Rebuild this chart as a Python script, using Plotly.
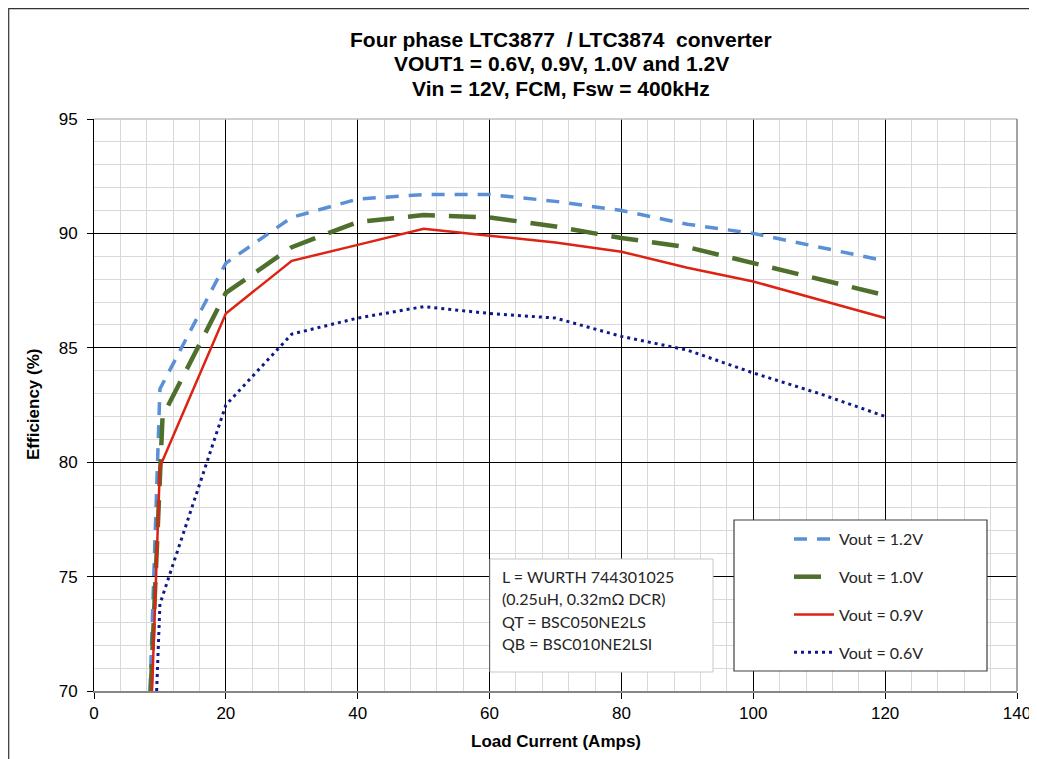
import plotly.graph_objects as go

# ---- data ----
x_12 = [8.5, 10, 20, 30, 40, 50, 60, 70, 80, 90, 100, 110, 120]
eff_12 = [70.0, 83.2, 88.7, 90.7, 91.5, 91.7, 91.7, 91.4, 91.0, 90.4, 90.0, 89.4, 88.8]

x_10 = [8.6, 10.4, 20, 30, 40, 50, 60, 70, 80, 90, 100, 110, 120]
eff_10 = [70.0, 82.0, 87.4, 89.4, 90.5, 90.8, 90.7, 90.3, 89.8, 89.4, 88.7, 88.0, 87.3]

x_09 = [8.8, 10, 20, 30, 40, 50, 60, 70, 80, 90, 100, 110, 120]
eff_09 = [70.0, 79.8, 86.5, 88.8, 89.5, 90.2, 89.9, 89.6, 89.2, 88.5, 87.9, 87.1, 86.3]

x_06 = [9.5, 10, 20, 30, 40, 50, 60, 70, 80, 90, 100, 110, 120]
eff_06 = [70.0, 73.8, 82.5, 85.6, 86.3, 86.8, 86.5, 86.3, 85.5, 84.9, 83.9, 83.0, 82.0]

series_names = ["Vout = 1.2V", "Vout = 1.0V", "Vout = 0.9V", "Vout = 0.6V"]

title_lines = ["Four phase LTC3877  / LTC3874  converter",
               "VOUT1 = 0.6V, 0.9V, 1.0V and 1.2V",
               "Vin = 12V, FCM, Fsw = 400kHz"]
note_lines = ["L = WURTH 744301025", "(0.25uH, 0.32m\u03a9 DCR)",
              "QT = BSC050NE2LS", "QB = BSC010NE2LSI"]
x_title = "Load Current (Amps)"
y_title = "Efficiency (%)"

# ---- geometry (screen pixels; page body adds an 8px offset) ----
OFF = 8
SCR_W, SCR_H = 1037, 759
PL, PR, PT, PB = 94, 1017, 119, 691           # plot area in screen px
W, H = SCR_W - OFF, SCR_H - OFF
L, T = PL - OFF, PT - OFF
R, B = W - (PR - OFF), H - (PB - OFF)
PW, PH = PR - PL, PB - PT


def px(x):
    return (x - PL) / PW


def py(y):
    return (PB - y) / PH


styles = [
    dict(color="#5B8FD6", width=3.5, dash="13px,10px"),
    dict(color="#4F6F2C", width=4.5, dash="27px,14px"),
    dict(color="#DD2314", width=2.5, dash="solid"),
    dict(color="#0E1A8A", width=3, dash="3px,4px"),
]

fig = go.Figure()
for i, (xs, ys) in enumerate([(x_12, eff_12), (x_10, eff_10), (x_09, eff_09), (x_06, eff_06)]):
    fig.add_trace(go.Scatter(x=xs, y=ys, mode="lines", name=series_names[i],
                             legendgroup=f"g{i}", line=styles[i]))

tick_font = dict(family="Liberation Sans, Arial, sans-serif", size=17, color="#000000")
fig.update_xaxes(range=[0, 140], dtick=20, tick0=0, showgrid=True, gridcolor="#000000", gridwidth=1,
                 minor=dict(dtick=4, showgrid=True, gridcolor="#D9D9D9", gridwidth=1),
                 showline=True, linecolor="#868686", linewidth=2, ticks="outside", ticklen=6,
                 tickcolor="#000000", tickfont=tick_font, zeroline=False, automargin=False,
                 ticklabelstandoff=0)
fig.update_yaxes(range=[70, 95], dtick=5, tick0=70, showgrid=True, gridcolor="#000000", gridwidth=1,
                 minor=dict(dtick=1, showgrid=True, gridcolor="#D9D9D9", gridwidth=1),
                 showline=True, linecolor="#000000", linewidth=1, ticks="outside", ticklen=6,
                 tickcolor="#000000", tickfont=tick_font, zeroline=False, automargin=False,
                 ticklabelstandoff=6)

shapes = [
    # plot frame top and right (gray)
    dict(type="line", xref="paper", yref="paper", x0=0, x1=1, y0=1, y1=1,
         line=dict(color="#BFBFBF", width=1.5)),
    dict(type="line", xref="paper", yref="paper", x0=1, x1=1, y0=0, y1=1,
         line=dict(color="#868686", width=1.5)),
    # outer chart border (left & top visible)
    dict(type="rect", xref="paper", yref="paper", x0=px(8.7), x1=px(1060), y0=py(780), y1=py(8.7),
         line=dict(color="#333333", width=1.2), fillcolor="rgba(0,0,0,0)"),
    # note box
    dict(type="rect", xref="paper", yref="paper", x0=px(490), x1=px(713), y0=py(672), y1=py(559),
         line=dict(color="#C8C8C8", width=1), fillcolor="#FFFFFF"),
    # legend box
    dict(type="rect", xref="paper", yref="paper", x0=px(734), x1=px(987), y0=py(671), y1=py(520),
         line=dict(color="#404040", width=1.2), fillcolor="#FFFFFF"),
]

annotations = []
title_font = dict(family="Liberation Sans, Arial, sans-serif", size=21, color="#000000")
for line, yc in zip(title_lines, [40, 64, 88]):
    annotations.append(dict(text=f"<b>{line}</b>", xref="paper", yref="paper", x=px(561), y=py(yc),
                            xanchor="center", yanchor="middle", showarrow=False, font=title_font))
axis_font = dict(family="Liberation Sans, Arial, sans-serif", size=17, color="#000000")
annotations.append(dict(text=f"<b>{x_title}</b>", xref="paper", yref="paper", x=px(556), y=py(741),
                        xanchor="center", yanchor="middle", showarrow=False, font=axis_font))
annotations.append(dict(text=f"<b>{y_title}</b>", xref="paper", yref="paper", x=px(33), y=0.5,
                        xanchor="center", yanchor="middle", showarrow=False, font=axis_font,
                        textangle=-90))
note_font = dict(family="Lato, Carlito, sans-serif", size=16, color="#262626")
for line, yc in zip(note_lines, [576, 598, 621, 643]):
    annotations.append(dict(text=line, xref="paper", yref="paper", x=px(500), y=py(yc),
                            xanchor="left", yanchor="middle", showarrow=False, font=note_font))

fig.update_layout(
    width=W, height=H,
    margin=dict(l=L, r=R, t=T, b=B, pad=0),
    paper_bgcolor="#FFFFFF", plot_bgcolor="#FFFFFF",
    shapes=shapes, annotations=annotations,
    showlegend=True,
    legend=dict(x=px(789), y=py(522), xanchor="left", yanchor="top",
                bgcolor="rgba(0,0,0,0)", borderwidth=0, itemwidth=40,
                tracegroupgap=14, traceorder="grouped",
                font=dict(family="Lato, Carlito, sans-serif", size=16, color="#262626")),
)

fig.write_html("out.html")
